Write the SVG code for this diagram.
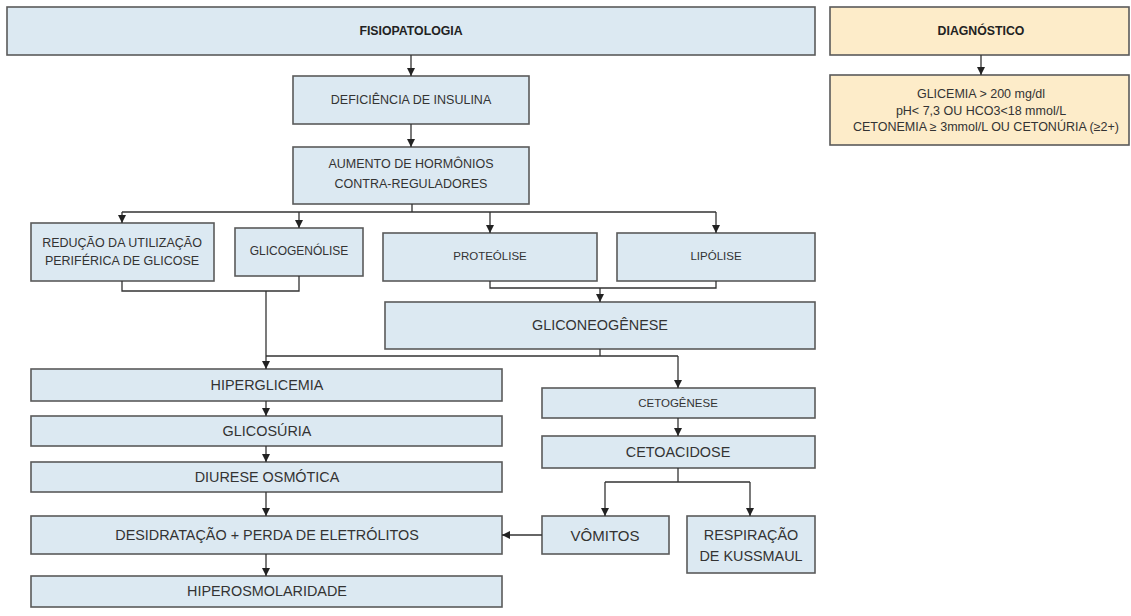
<svg xmlns="http://www.w3.org/2000/svg" width="1131" height="616" viewBox="0 0 1131 616">
<defs>
<marker id="ah" markerWidth="10" markerHeight="10" refX="9" refY="5" orient="auto" markerUnits="userSpaceOnUse">
<path d="M1,1 L9,5 L1,9 Z" fill="#222"/>
</marker>
<style>
.b{fill:#dce9f2;stroke:#5a5a5a;stroke-width:1.6}
.d{fill:#fdecc9;stroke:#5a5a5a;stroke-width:1.6}
text{font-family:"Liberation Sans",Arial,sans-serif;fill:#333;text-anchor:middle;dominant-baseline:central}
.xs{font-size:11.5px}
.s{font-size:12px}
.s2{font-size:12.5px}
.m{font-size:14.4px}
.h{font-size:12.3px;font-weight:bold;fill:#222}
.c{fill:none;stroke:#333;stroke-width:1.3}
.a{fill:none;stroke:#333;stroke-width:1.3;marker-end:url(#ah)}
</style>
</defs>
<rect width="1131" height="616" fill="#fff"/>
<g id="fisiopatologia"><rect class="b" x="7" y="7" width="808" height="48"/><text class="h" x="411" y="31">FISIOPATOLOGIA</text></g>
<g id="diagnostico"><rect class="d" x="830" y="7" width="299" height="48"/><text class="h" x="981" y="31">DIAGNÓSTICO</text></g>
<g id="criterios"><rect class="d" x="830" y="75" width="299" height="70"/>
<text class="s2" x="981" y="94">GLICEMIA &gt; 200 mg/dl</text>
<text class="s2" x="981" y="111">pH&lt; 7,3 OU HCO3&lt;18 mmol/L</text>
<text class="s2" x="986" y="127">CETONEMIA ≥ 3mmol/L OU CETONÚRIA (≥2+)</text></g>
<g id="deficiencia"><rect class="b" x="293" y="76" width="236" height="48"/><text class="s2" x="411" y="100">DEFICIÊNCIA DE INSULINA</text></g>
<g id="aumento"><rect class="b" x="293" y="147" width="236" height="57"/><text class="s2" x="411" y="164">AUMENTO DE HORMÔNIOS</text><text class="s2" x="411" y="184">CONTRA-REGULADORES</text></g>
<g id="reducao"><rect class="b" x="31" y="223" width="183" height="58"/><text class="s2" x="122" y="243">REDUÇÃO DA UTILIZAÇÃO</text><text class="s2" x="122" y="261">PERIFÉRICA DE GLICOSE</text></g>
<g id="glicogenolise"><rect class="b" x="235" y="228" width="128" height="48"/><text class="s" x="299" y="251">GLICOGENÓLISE</text></g>
<g id="proteolise"><rect class="b" x="383" y="233" width="214" height="48"/><text class="xs" x="490" y="256">PROTEÓLISE</text></g>
<g id="lipolise"><rect class="b" x="617" y="233" width="198" height="48"/><text class="xs" x="716" y="256">LIPÓLISE</text></g>
<g id="gliconeogenese"><rect class="b" x="385" y="302" width="430" height="47"/><text class="m" x="600" y="325">GLICONEOGÊNESE</text></g>
<g id="hiperglicemia"><rect class="b" x="31" y="369" width="471" height="32"/><text class="m" x="267" y="385">HIPERGLICEMIA</text></g>
<g id="glicosuria"><rect class="b" x="31" y="416" width="471" height="30"/><text class="m" x="267" y="431">GLICOSÚRIA</text></g>
<g id="diurese"><rect class="b" x="31" y="462" width="471" height="30"/><text class="m" x="267" y="477">DIURESE OSMÓTICA</text></g>
<g id="desidratacao"><rect class="b" x="31" y="516" width="471" height="38"/><text class="m" x="267" y="535">DESIDRATAÇÃO + PERDA DE ELETRÓLITOS</text></g>
<g id="hiperosmolaridade"><rect class="b" x="31" y="576" width="471" height="31"/><text class="m" x="267" y="591">HIPEROSMOLARIDADE</text></g>
<g id="cetogenese"><rect class="b" x="542" y="388" width="273" height="30"/><text class="xs" x="678" y="403">CETOGÊNESE</text></g>
<g id="cetoacidose"><rect class="b" x="542" y="436" width="273" height="32"/><text class="m" x="678" y="452">CETOACIDOSE</text></g>
<g id="vomitos"><rect class="b" x="542" y="516" width="127" height="38"/><text class="m" x="605" y="535" style="font-size:15px">VÔMITOS</text></g>
<g id="respiracao"><rect class="b" x="687" y="516" width="128" height="57"/><text class="m" x="751" y="535">RESPIRAÇÃO</text><text class="m" x="751" y="556">DE KUSSMAUL</text></g>
<g id="connectors">
<path class="a" d="M411,55 V76"/>
<path class="a" d="M981,55 V75"/>
<path class="a" d="M411,124 V147"/>
<path class="c" d="M412,204 V212 M122,212 H716"/>
<path class="a" d="M122,212 V223"/>
<path class="a" d="M299,212 V228"/>
<path class="a" d="M490,212 V233"/>
<path class="a" d="M716,212 V233"/>
<path class="c" d="M122,281 V291 H299 V276"/>
<path class="a" d="M266,291 V369"/>
<path class="c" d="M490,281 V288 H716 V281"/>
<path class="a" d="M600,288 V302"/>
<path class="c" d="M600,349 V356 M266,356 H678"/>
<path class="a" d="M678,356 V388"/>
<path class="a" d="M266,401 V416"/>
<path class="a" d="M266,446 V462"/>
<path class="a" d="M266,492 V516"/>
<path class="a" d="M266,554 V576"/>
<path class="a" d="M678,418 V436"/>
<path class="c" d="M678,468 V482 M605,482 H750"/>
<path class="a" d="M605,482 V516"/>
<path class="a" d="M750,482 V516"/>
<path class="a" d="M542,535 H502"/>
</g>
</svg>
